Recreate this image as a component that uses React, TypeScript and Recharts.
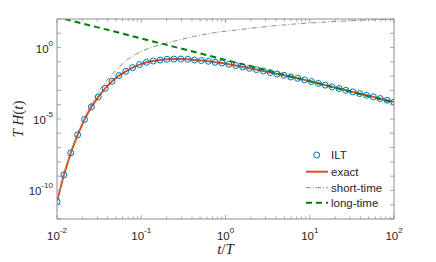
import React from 'react';
import { ComposedChart, Line, XAxis, YAxis, Legend } from 'recharts';

// ---- data (t/T and T·H(t)) ----
const T_ILT = [0.01, 0.012068, 0.014563, 0.017575, 0.02121, 0.025595, 0.030888, 0.037276, 0.044984, 0.054287,
  0.065513, 0.07906, 0.09541, 0.11514, 0.13895, 0.16768, 0.20236, 0.24421, 0.29471, 0.35565,
  0.42919, 0.51795, 0.62506, 0.75431, 0.91029, 1.0985, 1.3257, 1.5999, 1.9307, 2.33,
  2.8118, 3.3932, 4.0949, 4.9417, 5.9636, 7.1969, 8.6851, 10.481, 12.649, 15.264,
  18.421, 22.23, 26.827, 32.375, 39.069, 47.149, 56.899, 68.665, 82.864, 100];
const H_ILT = [1.70e-11, 1.23e-9, 4.27e-8, 7.76e-7, 9.33e-6, 7.08e-5, 3.55e-4, 1.41e-3, 4.37e-3, 0.0110,
  0.0219, 0.0398, 0.0646, 0.0933, 0.115, 0.135, 0.151, 0.158, 0.158, 0.151,
  0.135, 0.123, 0.110, 0.0933, 0.0832, 0.0676, 0.0550, 0.0437, 0.0355, 0.0288,
  0.0229, 0.0178, 0.0141, 0.0115, 0.00871, 0.00708, 0.00550, 0.00417, 0.00309, 0.00234,
  0.00178, 0.00135, 0.00102, 7.94e-4, 6.03e-4, 4.57e-4, 3.55e-4, 2.69e-4, 2.04e-4, 1.51e-4];
const H_EXACT = [1.70e-11, 1.23e-9, 4.27e-8, 7.76e-7, 9.33e-6, 7.08e-5, 3.55e-4, 1.41e-3, 4.37e-3, 0.0110,
  0.0219, 0.0398, 0.0646, 0.0933, 0.115, 0.135, 0.151, 0.158, 0.158, 0.151,
  0.135, 0.123, 0.110, 0.0933, 0.0832, 0.0676, 0.0550, 0.0437, 0.0355, 0.0288,
  0.0229, 0.0178, 0.0141, 0.0115, 0.00871, 0.00708, 0.00550, 0.00417, 0.00309, 0.00234,
  0.00178, 0.00135, 0.00102, 7.94e-4, 6.03e-4, 4.57e-4, 3.55e-4, 2.69e-4, 2.04e-4, 1.51e-4];

const T_SHORT = [0.01, 0.01207, 0.01456, 0.01758, 0.02121, 0.0256, 0.0309, 0.0372, 0.0446, 0.0535,
  0.0671, 0.0843, 0.1057, 0.139, 0.2, 0.288, 0.415, 0.598, 0.861, 1.7,
  3.37, 7.66, 18.9, 46.6, 100];
const H_SHORT = [1.78e-11, 1.32e-9, 4.79e-8, 9.33e-7, 1.2e-5, 1.12e-4, 7.94e-4, 3.55e-3, 0.0126, 0.0398,
  0.132, 0.316, 0.631, 1.17, 2.09, 3.55, 5.89, 8.91, 12.6, 20.0,
  31.6, 47.9, 66.1, 85.1, 97.7];

const T_LONG = [0.0124, 1, 100];
const H_LONG = [100, 0.138, 1.38e-4];

const X_TICKS = [0.01, 0.02, 0.03, 0.04, 0.05, 0.06, 0.07, 0.08, 0.09,
  0.1, 0.2, 0.3, 0.4, 0.5, 0.6, 0.7, 0.8, 0.9,
  1, 2, 3, 4, 5, 6, 7, 8, 9,
  10, 20, 30, 40, 50, 60, 70, 80, 90, 100];
const X_LABELED = [0.01, 0.1, 1, 10, 100];
const Y_TICKS = [1e-12, 1e-11, 1e-10, 1e-9, 1e-8, 1e-7, 1e-6, 1e-5, 1e-4, 1e-3, 1e-2, 1e-1, 1, 10, 100];
const Y_LABELED = [1e-10, 1e-5, 1];

const LEGEND_LABELS = ['ILT', 'exact', 'short-time', 'long-time'];

// ---- styling ----
const AXIS = '#8f8f8f';
const TXT = '#262626';
const FONT = '"Liberation Sans", Arial, Helvetica, sans-serif';
const SERIF = '"Liberation Serif", "Times New Roman", serif';
const BLUE = '#0072BD';
const ORANGE = '#D95319';
const GRAY = '#8c8c8c';
const GREEN = '#008000';

const iltData = T_ILT.map((t, i) => ({ t, ilt: H_ILT[i], exact: H_EXACT[i] }));
const shortData = T_SHORT.map((t, i) => ({ t, y: H_SHORT[i] }));
const longData = T_LONG.map((t, i) => ({ t, y: H_LONG[i] }));

const isDecade = (v: number) => {
  const lg = Math.log10(v);
  return Math.abs(lg - Math.round(lg)) < 1e-6;
};
const hasLabel = (v: number, list: number[]) => list.some((l) => Math.abs(Math.log10(l) - Math.log10(v)) < 1e-6);

const BottomTick = (p: any) => {
  const { x, y, payload } = p;
  const v = payload.value as number;
  const major = isDecade(v);
  return (
    <g>
      <line x1={x} x2={x} y1={y} y2={y - (major ? 4 : 2.5)} stroke={AXIS} strokeWidth={0.8} />
      {hasLabel(v, X_LABELED) && (
        <text x={x} y={y + 21} textAnchor="middle" fontSize={11.5} fill={TXT} fontFamily={FONT}>
          10<tspan dy={-7} fontSize={8}>{String(Math.round(Math.log10(v)))}</tspan>
        </text>
      )}
    </g>
  );
};

const TopTick = (p: any) => {
  const { x, y, payload } = p;
  const major = isDecade(payload.value);
  return <line x1={x} x2={x} y1={y} y2={y + (major ? 4 : 2.5)} stroke={AXIS} strokeWidth={0.8} />;
};

const LeftTick = (p: any) => {
  const { x, y, payload } = p;
  const v = payload.value as number;
  return (
    <g>
      <line x1={x} x2={x + 4} y1={y} y2={y} stroke={AXIS} strokeWidth={0.8} />
      {hasLabel(v, Y_LABELED) && (
        <text x={x - 4} y={y + 5} textAnchor="end" fontSize={11.5} fill={TXT} fontFamily={FONT}>
          10<tspan dy={-7} fontSize={8}>{String(Math.round(Math.log10(v)))}</tspan>
        </text>
      )}
    </g>
  );
};

const RightTick = (p: any) => {
  const { x, y } = p;
  return <line x1={x} x2={x - 4} y1={y} y2={y} stroke={AXIS} strokeWidth={0.8} />;
};

const XLabel = () => (
  <text x={225.5} y={254} textAnchor="middle" fontSize={15} fill={TXT} fontFamily={SERIF}>
    <tspan fontStyle="italic">t</tspan>
    <tspan>/</tspan>
    <tspan fontStyle="italic">T</tspan>
  </text>
);

const YLabel = () => (
  <text transform="translate(23,119) rotate(-90)" textAnchor="middle" fontSize={15} fill={TXT} fontFamily={SERIF}>
    <tspan fontStyle="italic">T</tspan>
    <tspan> </tspan>
    <tspan fontStyle="italic">H</tspan>
    <tspan>(</tspan>
    <tspan fontStyle="italic">t</tspan>
    <tspan>)</tspan>
  </text>
);

const LegendBox = () => (
  <svg width={130} height={66} style={{ display: 'block', overflow: 'visible' }}>
    <circle cx={16.7} cy={10} r={3} fill="none" stroke={BLUE} strokeWidth={1} />
    <line x1={6} x2={28} y1={26.7} y2={26.7} stroke={ORANGE} strokeWidth={2} />
    <line x1={6} x2={28} y1={42.7} y2={42.7} stroke={GRAY} strokeWidth={1} strokeDasharray="5 2 1 2" />
    <line x1={6} x2={28} y1={57.7} y2={57.7} stroke={GREEN} strokeWidth={2} strokeDasharray="6 4" />
    {LEGEND_LABELS.map((l, i) => (
      <text key={l} x={31} y={[14, 30.7, 46.7, 61.7][i]} fontSize={11.5} fill={TXT} fontFamily={FONT}>
        {l}
      </text>
    ))}
  </svg>
);

export default function App() {
  return (
    <div style={{ position: 'absolute', left: 0, top: 0, width: 436, height: 262, background: '#fff' }}>
      <ComposedChart width={436} height={262} margin={{ top: 18, right: 41, bottom: 42, left: 56 }}>
        <XAxis
          xAxisId="b"
          type="number"
          dataKey="t"
          scale="log"
          domain={[0.01, 100]}
          allowDataOverflow
          ticks={X_TICKS}
          interval={0}
          tick={BottomTick}
          tickLine={false}
          tickSize={0}
          tickMargin={0}
          height={1}
          axisLine={{ stroke: AXIS }}
          label={{ content: XLabel }}
        />
        <XAxis
          xAxisId="top"
          orientation="top"
          type="number"
          dataKey="t"
          scale="log"
          domain={[0.01, 100]}
          allowDataOverflow
          ticks={X_TICKS}
          interval={0}
          tick={TopTick}
          tickLine={false}
          tickSize={0}
          tickMargin={0}
          height={1}
          axisLine={{ stroke: AXIS }}
        />
        <YAxis
          yAxisId="l"
          type="number"
          scale="log"
          domain={[1e-12, 100]}
          allowDataOverflow
          ticks={Y_TICKS}
          interval={0}
          tick={LeftTick}
          tickLine={false}
          tickSize={0}
          tickMargin={0}
          width={1}
          axisLine={{ stroke: AXIS }}
          label={{ content: YLabel }}
        />
        <YAxis
          yAxisId="r"
          orientation="right"
          type="number"
          scale="log"
          domain={[1e-12, 100]}
          allowDataOverflow
          ticks={Y_TICKS}
          interval={0}
          tick={RightTick}
          tickLine={false}
          tickSize={0}
          tickMargin={0}
          width={1}
          axisLine={{ stroke: AXIS }}
        />
        <Line
          xAxisId="b"
          yAxisId="l"
          data={iltData}
          dataKey="ilt"
          stroke="none"
          dot={{ r: 3, stroke: BLUE, strokeWidth: 1, fill: 'none' }}
          activeDot={false}
          isAnimationActive={false}
          legendType="circle"
          name="ILT"
        />
        <Line
          xAxisId="b"
          yAxisId="l"
          data={iltData}
          dataKey="exact"
          stroke={ORANGE}
          strokeWidth={2}
          dot={false}
          activeDot={false}
          isAnimationActive={false}
          name="exact"
        />
        <Line
          xAxisId="b"
          yAxisId="l"
          data={shortData}
          dataKey="y"
          stroke={GRAY}
          strokeWidth={1}
          strokeDasharray="5 2 1 2"
          dot={false}
          activeDot={false}
          isAnimationActive={false}
          name="short-time"
        />
        <Line
          xAxisId="b"
          yAxisId="l"
          data={longData}
          dataKey="y"
          stroke={GREEN}
          strokeWidth={2}
          strokeDasharray="6 4"
          dot={false}
          activeDot={false}
          isAnimationActive={false}
          name="long-time"
        />
        <Legend
          layout="vertical"
          align="center"
          verticalAlign="middle"
          content={LegendBox}
          wrapperStyle={{ left: 300, top: 145, width: 130, height: 66 }}
        />
      </ComposedChart>
    </div>
  );
}
